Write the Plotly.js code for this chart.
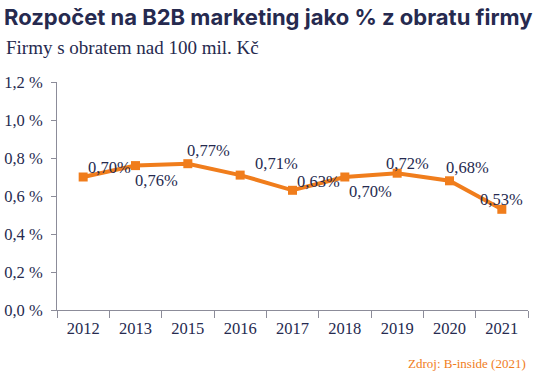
<!DOCTYPE html>
<html><head><meta charset="utf-8">
<script src="https://cdn.plot.ly/plotly-3.0.1.min.js"></script>
<style>html,body{margin:0;padding:0;background:#fff;}</style>
</head><body>
<div id="chart" style="width:541px;height:380px;"></div>
<script>
const years = ['2012','2013','2015','2016','2017','2018','2019','2020','2021'];
const shares = [0.70, 0.76, 0.77, 0.71, 0.63, 0.70, 0.72, 0.68, 0.53];
const labels = ['0,70%','0,76%','0,77%','0,71%','0,63%','0,70%','0,72%','0,68%','0,53%'];
// label offsets (px) relative to the marker
const labelDx = [26, 21, 21, 36, 26, 26, 10, 18, 0];
const labelDy = [10, -15, 13, 12, 9, -14, 10, 13, 10];

const W = 541, L = 57, R = 13, PW = W - L - R;
const navy = '#262a4f';
const orange = '#f07d1c';
const serif = 'Liberation Serif, Times New Roman, serif';

const annotations = years.map((y, i) => ({
  x: i, y: shares[i], xref: 'x', yref: 'y', text: labels[i], showarrow: false,
  xanchor: 'center', yanchor: 'middle', xshift: labelDx[i], yshift: labelDy[i],
  font: {family: serif, size: 16.5, color: navy}
}));
annotations.push({
  xref: 'paper', yref: 'paper', x: (4 - L) / PW, y: 1 + (82 - 47) / 228,
  xanchor: 'left', yanchor: 'middle', showarrow: false,
  text: 'Firmy s obratem nad 100 mil. Kč',
  font: {family: serif, size: 19, color: navy}
});
annotations.push({
  xref: 'paper', yref: 'paper', x: (528 - L) / PW, y: -(363 - 310) / 228,
  xanchor: 'right', yanchor: 'middle', showarrow: false,
  text: 'Zdroj: B-inside (2021)',
  font: {family: serif, size: 13, color: orange}
});

const trace = {
  type: 'scatter', mode: 'lines+markers', x: years, y: shares,
  line: {color: orange, width: 4},
  marker: {symbol: 'square', size: 9, color: orange},
  hoverinfo: 'skip', cliponaxis: false
};

const layout = {
  width: 541, height: 380,
  margin: {l: L, r: R, t: 82, b: 70, pad: 0},
  paper_bgcolor: '#ffffff', plot_bgcolor: '#ffffff',
  separators: ',.',
  showlegend: false,
  title: {
    text: '<b>Rozpočet na B2B marketing jako % z obratu firmy</b>',
    xref: 'container', yref: 'container', x: 4 / W, xanchor: 'left',
    y: 1 - 17 / 380, yanchor: 'middle',
    font: {family: 'Inter, Roboto, sans-serif', size: 22, color: navy, weight: 800}
  },
  xaxis: {
    type: 'category', categoryorder: 'array', categoryarray: years,
    range: [-0.5, years.length - 0.5],
    tickson: 'boundaries', ticks: 'outside', ticklen: 7, tickangle: 0,
    ticklabelstandoff: 3,
    tickcolor: '#8c8c99', showline: true, linecolor: '#8c8c99', linewidth: 1,
    showgrid: false, zeroline: false,
    tickfont: {family: serif, size: 16.5, color: navy}
  },
  yaxis: {
    range: [0, 1.2], dtick: 0.2, tick0: 0, tickformat: '.1f', ticksuffix: ' %',
    ticks: 'outside', ticklen: 5, tickcolor: '#8c8c99', ticklabelstandoff: 5,
    showline: true, linecolor: '#8c8c99', linewidth: 1,
    showgrid: false, zeroline: false,
    tickfont: {family: serif, size: 16.5, color: navy}
  },
  annotations: annotations
};

Plotly.newPlot('chart', [trace], layout, {displayModeBar: false, staticPlot: true});
</script>
</body></html>
